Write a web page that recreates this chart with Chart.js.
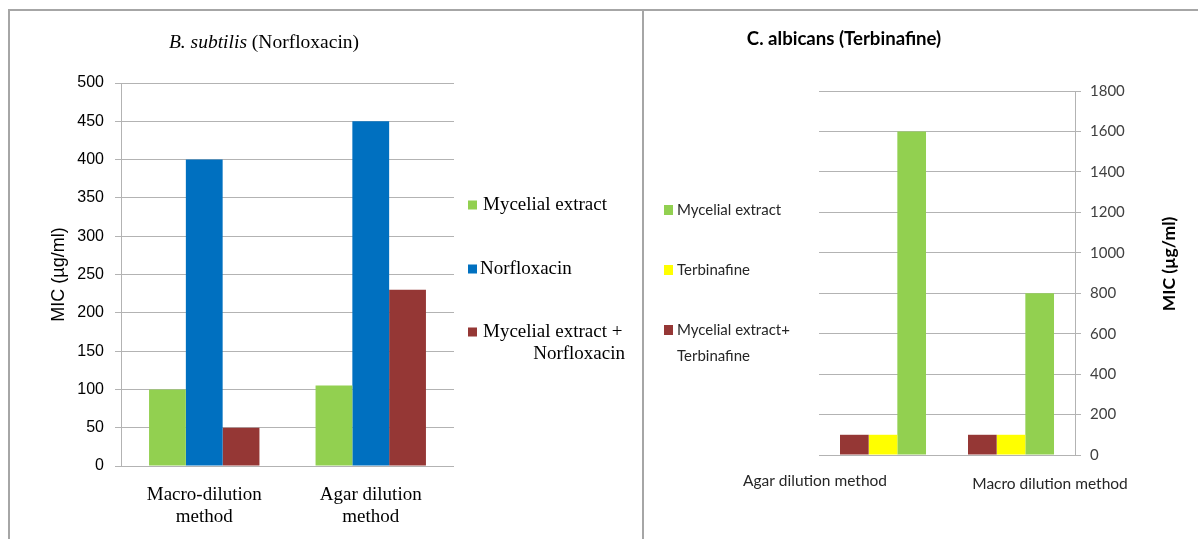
<!DOCTYPE html>
<html><head><meta charset="utf-8">
<script src="https://cdn.jsdelivr.net/npm/chart.js@4/dist/chart.umd.min.js"></script>
<style>
html,body{margin:0;padding:0;background:#fff;width:1198px;height:539px;overflow:hidden;}
#c1{position:absolute;left:0;top:0;width:641px;height:539px;}
#c2{position:absolute;left:644px;top:0;width:554px;height:539px;}
.ln{position:absolute;background:#a6a6a6;}
</style></head><body>
<canvas id="c1" width="641" height="539"></canvas>
<canvas id="c2" width="554" height="539"></canvas>
<div class="ln" style="left:8px;top:9px;width:1190px;height:2px"></div>
<div class="ln" style="left:8px;top:9px;width:2px;height:530px"></div>
<div class="ln" style="left:642px;top:9px;width:2px;height:530px"></div>
<script>
// ---- Left chart data: B. subtilis (Norfloxacin) ----
const leftCategories = [['Macro-dilution', 'method'], ['Agar dilution', 'method']];
const leftSeriesNames = ['Mycelial extract', 'Norfloxacin', 'Mycelial extract + Norfloxacin'];
const leftMycelial = [100, 105];
const leftNorfloxacin = [400, 450];
const leftCombination = [50, 230];
const leftAxisMax = 500;
const leftAxisStep = 50;

// ---- Right chart data: C. albicans (Terbinafine) ----
const rightCategories = ['Agar dilution method', 'Macro dilution method'];
const rightSeriesNames = ['Mycelial extract+ Terbinafine', 'Terbinafine', 'Mycelial extract'];
const rightCombination = [100, 100];
const rightTerbinafine = [100, 100];
const rightMycelial = [1600, 800];
const rightAxisMax = 1800;
const rightAxisStep = 200;

const GREEN = '#92D050', BLUE = '#0070C0', RED = '#953735', YELLOW = '#FFFF00';
const GRID = '#b3b3b3';

const leftDecor = {
  id: 'leftDecor',
  afterDraw(chart) {
    const ctx = chart.ctx;
    ctx.save();
    ctx.textBaseline = 'middle';
    const f1 = 'italic 19.5px "Liberation Serif"';
    const f2 = '19.5px "Liberation Serif"';
    const t1 = 'B. subtilis', t2 = ' (Norfloxacin)';
    ctx.font = f1; const w1 = ctx.measureText(t1).width;
    ctx.font = f2; const w2 = ctx.measureText(t2).width;
    let x = 264 - (w1 + w2) / 2;
    ctx.fillStyle = '#000';
    ctx.textAlign = 'left';
    ctx.font = f1; ctx.fillText(t1, x, 43);
    ctx.font = f2; ctx.fillText(t2, x + w1, 43);
    // Legend
    ctx.font = '19px "Liberation Serif"';
    const ds = chart.data.datasets;
    const rows = [205, 269, 332];
    ds.forEach((d, i) => {
      ctx.fillStyle = d.backgroundColor;
      ctx.fillRect(468, rows[i] - 4.5, 9, 9);
      ctx.fillStyle = '#000';
      if (i === 2) {
        ctx.textAlign = 'left';
        ctx.fillText('Mycelial extract +', 483, rows[i]);
        ctx.textAlign = 'right';
        ctx.fillText('Norfloxacin', 625, rows[i] + 22);
      } else {
        ctx.textAlign = 'left';
        ctx.fillText(d.label, i === 1 ? 480 : 483, rows[i]);
      }
    });
    ctx.restore();
  }
};

const rightDecor = {
  id: 'rightDecor',
  afterDraw(chart) {
    const ctx = chart.ctx;
    ctx.save();
    ctx.textBaseline = 'middle';
    // Title
    ctx.fillStyle = '#000';
    ctx.font = 'bold 18.6px Lato';
    ctx.textAlign = 'center';
    ctx.fillText('C. albicans (Terbinafine)', 844 - 644, 39);
    // Legend (reverse order of bars)
    ctx.font = '15px Lato';
    ctx.textAlign = 'left';
    const ds = chart.data.datasets;
    const order = [2, 1, 0];
    const rows = [210, 270, 330];
    order.forEach((di, r) => {
      ctx.fillStyle = ds[di].backgroundColor;
      ctx.fillRect(664 - 644, rows[r] - 5, 9, 10);
      ctx.fillStyle = '#262626';
      if (di === 0) {
        ctx.fillText('Mycelial extract+', 677 - 644, rows[r]);
        ctx.fillText('Terbinafine', 677 - 644, rows[r] + 26);
      } else {
        ctx.fillText(ds[di].label, 677 - 644, rows[r]);
      }
    });
    // Category labels
    const xs = chart.scales.x;
    const shifts = [-68, 39];
    const ys = [481, 484];
    ctx.textAlign = 'center';
    ctx.font = '15.5px Lato';
    chart.data.labels.forEach((lab, i) => {
      ctx.fillText(lab, xs.getPixelForValue(i) + shifts[i], ys[i]);
    });
    // Right axis title, reading upward
    ctx.font = 'bold 17.5px Lato';
    ctx.fillStyle = '#000';
    ctx.translate(1169 - 644, 264);
    ctx.rotate(-Math.PI / 2);
    ctx.fillText('MIC (µg/ml)', 0, 0);
    ctx.restore();
  }
};

new Chart(document.getElementById('c1'), {
  type: 'bar',
  data: {
    labels: leftCategories,
    datasets: [
      { label: leftSeriesNames[0], data: leftMycelial, backgroundColor: GREEN },
      { label: leftSeriesNames[1], data: leftNorfloxacin, backgroundColor: BLUE },
      { label: leftSeriesNames[2], data: leftCombination, backgroundColor: RED }
    ]
  },
  options: {
    responsive: false, animation: false,
    layout: { padding: { top: 83, right: 187, left: 0, bottom: 0 } },
    plugins: { legend: { display: false }, title: { display: false }, tooltip: { enabled: false } },
    datasets: { bar: { barPercentage: 1, categoryPercentage: 0.663 } },
    scales: {
      x: {
        grid: { display: false, drawTicks: false },
        border: { display: false },
        ticks: { font: { family: 'Liberation Serif', size: 19, lineHeight: '22px' }, color: '#000', padding: 18, maxRotation: 0 },
        afterFit(s) { s.height = 73; }
      },
      y: {
        min: 0, max: leftAxisMax,
        ticks: { stepSize: leftAxisStep, font: { family: 'Liberation Sans', size: 16 }, color: '#000', padding: 11, callback: v => String(v) },
        grid: { color: GRID, tickLength: 6 },
        border: { color: GRID },
        title: { display: true, text: 'MIC (µg/ml)', font: { family: 'Liberation Sans', size: 18 }, color: '#000', padding: { top: 48, bottom: 0 } },
        afterFit(s) { s.width = 121; }
      }
    }
  },
  plugins: [leftDecor]
});

new Chart(document.getElementById('c2'), {
  type: 'bar',
  data: {
    labels: rightCategories,
    datasets: [
      { label: rightSeriesNames[0], data: rightCombination, backgroundColor: RED },
      { label: rightSeriesNames[1], data: rightTerbinafine, backgroundColor: YELLOW },
      { label: rightSeriesNames[2], data: rightMycelial, backgroundColor: GREEN }
    ]
  },
  options: {
    responsive: false, animation: false,
    layout: { padding: { top: 91, right: 0, left: 175, bottom: 0 } },
    plugins: { legend: { display: false }, title: { display: false }, tooltip: { enabled: false } },
    datasets: { bar: { barPercentage: 1, categoryPercentage: 0.672 } },
    scales: {
      x: {
        grid: { display: false, drawTicks: false },
        border: { display: false },
        ticks: { display: false },
        afterFit(s) { s.height = 84; }
      },
      y: {
        position: 'right',
        min: 0, max: rightAxisMax,
        ticks: { stepSize: rightAxisStep, font: { family: 'Lato', size: 15 }, color: '#404040', padding: 9, callback: v => String(v) },
        grid: { color: GRID, tickLength: 6 },
        border: { color: GRID },
        afterFit(s) { s.width = 123; }
      }
    }
  },
  plugins: [rightDecor]
});
</script>
</body></html>
